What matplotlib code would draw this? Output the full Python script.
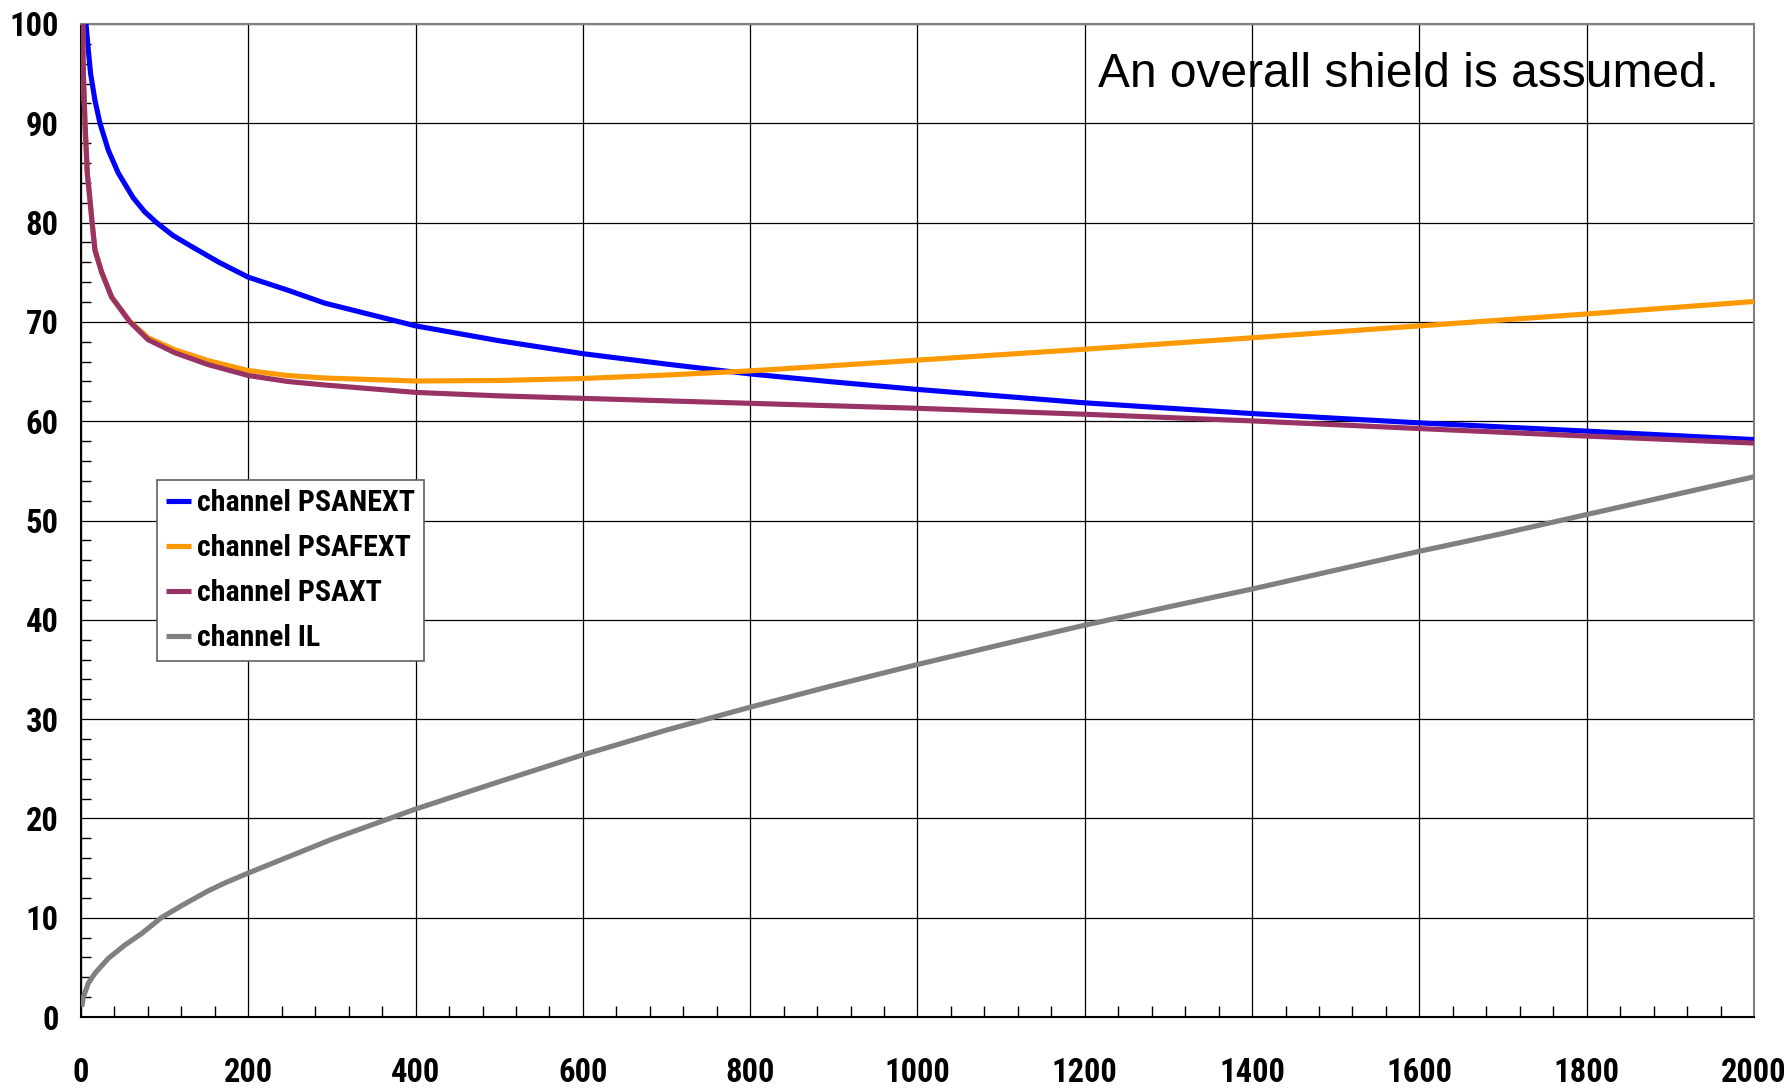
import matplotlib
matplotlib.use("Agg")
import matplotlib.pyplot as plt
from matplotlib.ticker import MultipleLocator
import logging
logging.getLogger("matplotlib.font_manager").setLevel(logging.ERROR)

# ---- data ----
psanext_x = [6.0, 8.7, 11.5, 16.7, 22.7, 32.6, 44.5, 62.4, 76, 90.3, 110, 132, 165, 200, 247, 291, 400,
             500, 600, 700, 800, 900, 1000, 1200, 1400, 1600, 1800, 2000]
psanext_y = [100, 97.4, 95.0, 92.3, 90.0, 87.3, 85.0, 82.5, 81.1, 80.0, 78.7, 77.6, 76.0, 74.5, 73.2,
             71.9, 69.6, 68.1, 66.8, 65.75, 64.76, 63.95, 63.2, 61.85, 60.77, 59.83, 59.0, 58.15]

psafext_x = [2.0, 2.8, 4.8, 7.5, 10.7, 13.3, 16.7, 24.7, 36.6, 58.4, 80.3, 112, 152, 200, 247, 291,
             400, 500, 600, 700, 800, 900, 1000, 1200, 1400, 1600, 1800, 2000]
psafext_y = [100, 95, 90, 85, 82.3, 80, 77.3, 75.0, 72.5, 70.05, 68.4, 67.2, 66.1, 65.1, 64.6, 64.35,
             64.05, 64.1, 64.3, 64.65, 65.07, 65.6, 66.15, 67.25, 68.4, 69.6, 70.8, 72.05]

psaxt_x = [2.0, 2.8, 4.8, 7.5, 10.7, 13.3, 16.7, 24.7, 36.6, 58.4, 80.3, 112, 152, 200, 247, 291,
           400, 500, 600, 700, 800, 900, 1000, 1200, 1400, 1600, 1800, 2000]
psaxt_y = [100, 95, 90, 85, 82.3, 80, 77.2, 75.0, 72.5, 70.0, 68.2, 66.9, 65.7, 64.6, 64.0, 63.65,
           62.9, 62.55, 62.3, 62.05, 61.8, 61.55, 61.3, 60.7, 60.03, 59.26, 58.5, 57.8]

il_x = [0.8, 2.8, 8.7, 16.7, 32.6, 52.5, 72.4, 96, 120, 152, 172, 200, 300, 400, 500, 600, 700, 800,
        900, 1000, 1100, 1200, 1300, 1400, 1500, 1600, 1700, 1800, 1900, 2000]
il_y = [1.04, 2.0, 3.4, 4.4, 5.9, 7.25, 8.4, 10.0, 11.2, 12.7, 13.5, 14.5, 17.9, 20.94, 23.7, 26.4,
        28.9, 31.2, 33.4, 35.5, 37.5, 39.46, 41.3, 43.1, 45.0, 46.9, 48.7, 50.6, 52.5, 54.4]

series_labels = ["channel PSANEXT", "channel PSAFEXT", "channel PSAXT", "channel IL"]
series_colors = ["#0000FF", "#FF9900", "#993366", "#808080"]

x_ticks = [0, 200, 400, 600, 800, 1000, 1200, 1400, 1600, 1800, 2000]
y_ticks = [0, 10, 20, 30, 40, 50, 60, 70, 80, 90, 100]
note = "An overall shield is assumed."

bold_family = ["Liberation Sans Narrow", "Roboto Condensed", "Archivo Narrow", "DejaVu Sans"]

fig = plt.figure(figsize=(17.89, 10.89), dpi=100)
ax = fig.add_axes([81 / 1789, 1 - 1017 / 1089, (1754 - 81) / 1789, (1017 - 24) / 1089])

series = [(psanext_x, psanext_y), (psafext_x, psafext_y), (psaxt_x, psaxt_y), (il_x, il_y)]
order = [3, 0, 1, 2]
lines = {}
for i in order:
    xs, ys = series[i]
    ln, = ax.plot(xs, ys, color=series_colors[i], lw=3.7, label=series_labels[i],
                  solid_capstyle="butt", solid_joinstyle="round", zorder=3 + i * 0.1)
    lines[i] = ln

ax.set_xlim(0, 2000)
ax.set_ylim(0, 100)
ax.set_xticks(x_ticks)
ax.set_yticks(y_ticks)
ax.xaxis.set_minor_locator(MultipleLocator(40))
ax.yaxis.set_minor_locator(MultipleLocator(2))
ax.grid(True, which="major", color="black", lw=0.9, zorder=1)
ax.set_axisbelow(True)

ax.tick_params(axis="both", which="major", direction="in", length=0, width=1)
ax.tick_params(axis="x", which="minor", direction="in", length=8, width=1, top=False)
ax.tick_params(axis="y", which="minor", direction="in", length=7, width=1, right=False)
ax.tick_params(axis="x", which="major", pad=29)
ax.tick_params(axis="y", which="major", pad=16)

for lab in ax.get_xticklabels() + ax.get_yticklabels():
    lab.set_family(bold_family)
    lab.set_fontweight("bold")
    lab.set_fontsize(23.5)

for s in ["left", "bottom"]:
    ax.spines[s].set_color("black")
    ax.spines[s].set_linewidth(1.5)
for s in ["top", "right"]:
    ax.spines[s].set_color("#808080")
    ax.spines[s].set_linewidth(1.5)

handles = [lines[i] for i in range(4)]
leg = ax.legend(handles, series_labels, loc="upper left",
                bbox_to_anchor=((157 - 81) / 1673, (1017 - 480) / 993),
                borderaxespad=0, frameon=True, fancybox=False, framealpha=1,
                edgecolor="#606060", handlelength=0.85, handletextpad=0.2,
                labelspacing=0.57, borderpad=0.3,
                prop={"family": bold_family, "weight": "bold", "size": 21.5})
leg.get_frame().set_linewidth(1.2)
leg.set_zorder(10)

fig.text(1098 / 1789, 1 - 87 / 1089, note, fontsize=34.5, family=["Liberation Sans", "DejaVu Sans"],
         ha="left", va="baseline", color="black")

fig.savefig("out.png", dpi=100, facecolor="white")
